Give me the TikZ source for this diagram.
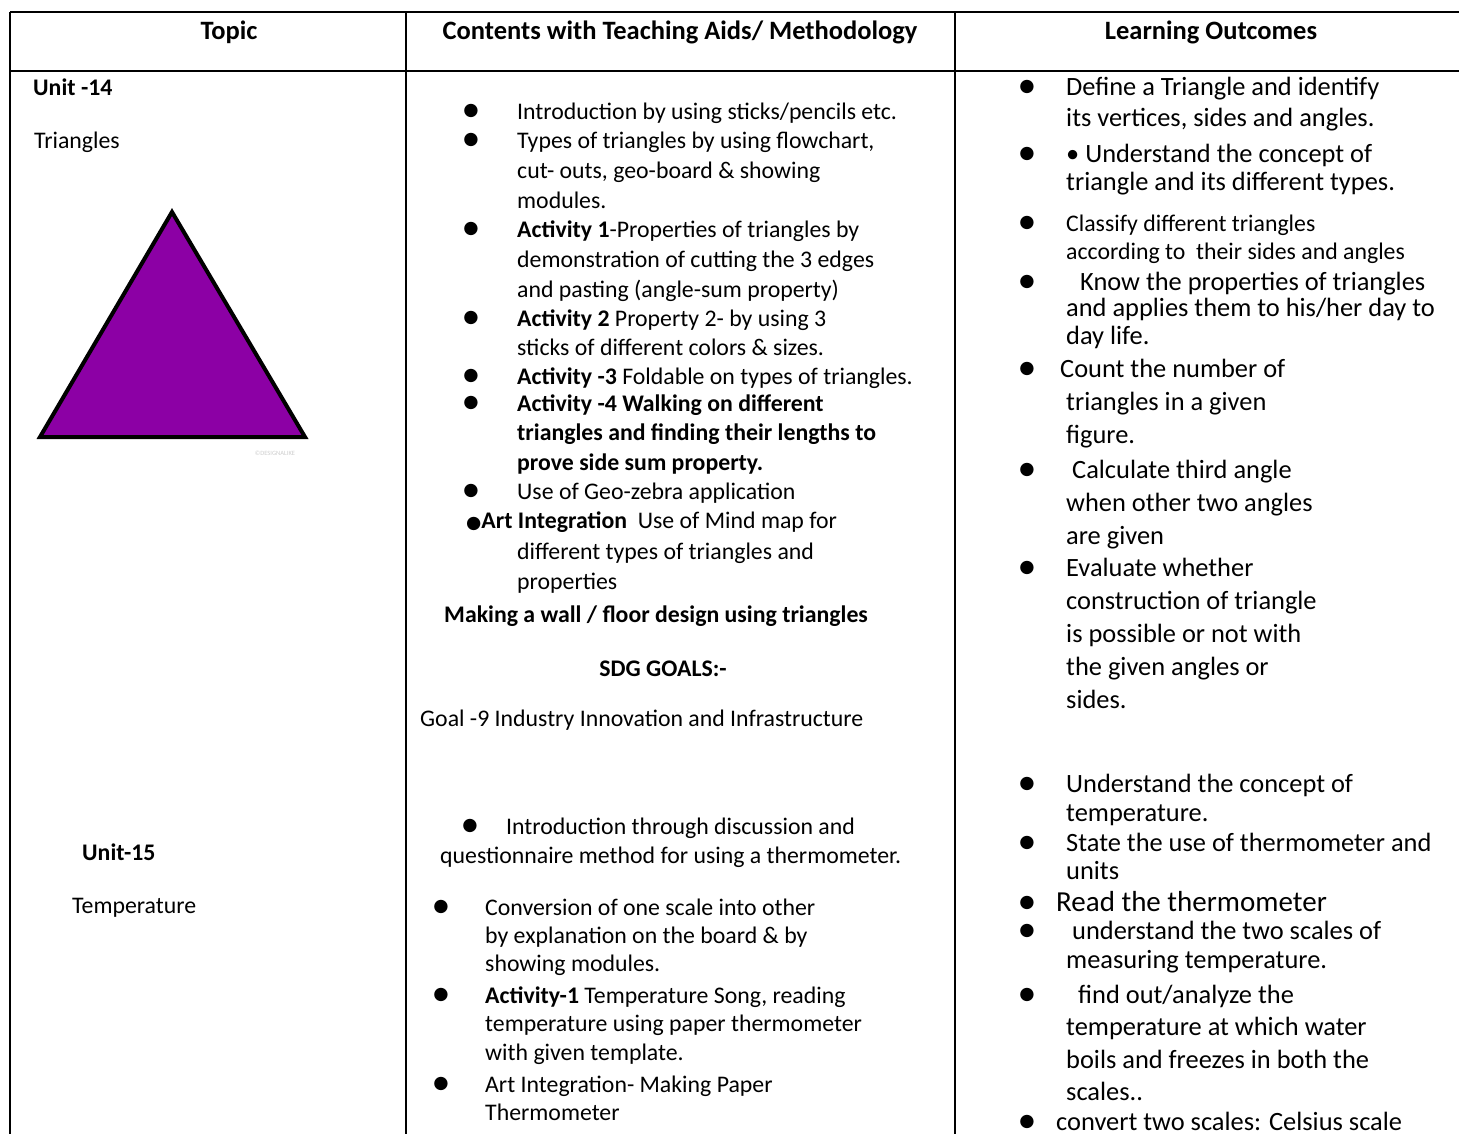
\documentclass[tikz,border=0pt]{standalone}
\usepackage{fontspec}
\setmainfont{Carlito}
\newfontfamily\dejavu{DejaVu Sans}
\definecolor{tripurple}{RGB}{140,0,165}
\definecolor{wmgray}{RGB}{205,205,205}
\newcommand\myfs[1]{\fontsize{#1}{#1}\selectfont}
\begin{document}
\begin{tikzpicture}[x=1pt,y=-1pt,
 grid/.style={line width=2.4pt,black},
 hd/.style={anchor=mid, inner sep=0pt, yshift=-6pt, font=\myfs{26.5}\bfseries},
 tx/.style={anchor=mid west, inner sep=0pt, yshift=-6pt, font=\myfs{23.8}},
 lo/.style={anchor=mid west, inner sep=0pt, yshift=-6pt, font=\myfs{26.4}},
 bl/.style={anchor=center, inner sep=0pt, font=\dejavu\myfs{17.5}},
]
\useasboundingbox (0,0) rectangle (1459,1133);
\clip (0,0) rectangle (1459,1133);

% table grid
\draw[grid] (10,12) -- (1470,12);
\draw[grid] (10,71) -- (1470,71);
\draw[grid] (10,12) -- (10,1140);
\draw[grid] (406,12) -- (406,1140);
\draw[grid] (955,12) -- (955,1140);

% header
\node[hd] (h1) at (229,31) {Topic};
\node[hd] (h2) at (680,31) {Contents with Teaching Aids/ Methodology};
\node[hd] (h3) at (1211,31) {Learning Outcomes};

% topic column
\node[tx,font=\myfs{23.8}\bfseries] (t1) at (33,87) {Unit -14};
\node[tx] (t2) at (34,140) {Triangles};
\filldraw[fill=tripurple,draw=black,line width=4pt,line join=miter] (172,212) -- (305,437) -- (40,437) -- cycle;
\node[anchor=mid, inner sep=0pt, font=\myfs{6.5}, text=wmgray] (wm) at (275,453) {©DESIGNALIKE};
\node[tx,font=\myfs{23.8}\bfseries] (t3) at (82,852) {Unit-15};
\node[tx] (t4) at (72,905) {Temperature};

% contents column, unit 14
\foreach \n/\yy in {1/111,2/140,3/229,4/318,5/376,6/403,7/491}
  \node[bl] (cb\n) at (471,\yy) {●};
\node[tx] (c1) at (517,111) {Introduction by using sticks/pencils etc.};
\node[tx] (c2) at (517,140) {Types of triangles by using flowchart,};
\node[tx] (c3) at (517,170) {cut- outs, geo-board \& showing};
\node[tx] (c4) at (517,200) {modules.};
\node[tx] (c5) at (517,229) {\textbf{Activity 1}-Properties of triangles by};
\node[tx] (c6) at (517,259) {demonstration of cutting the 3 edges};
\node[tx] (c7) at (517,289) {and pasting (angle-sum property)};
\node[tx] (c8) at (517,318) {\textbf{Activity 2} Property 2- by using 3};
\node[tx] (c9) at (517,347) {sticks of different colors \& sizes.};
\node[tx] (c10) at (517,376) {\textbf{Activity -3} Foldable on types of triangles.};
\node[tx,font=\myfs{23.8}\bfseries] (c11) at (517,403) {Activity -4 Walking on different};
\node[tx,font=\myfs{23.8}\bfseries] (c12) at (517,432) {triangles and finding their lengths to};
\node[tx,font=\myfs{23.8}\bfseries] (c13) at (517,462) {prove side sum property.};
\node[tx] (c14) at (517,491) {Use of Geo-zebra application};
\node[tx] (c15) at (466,520) {{\dejavu\myfs{17.5}●}\textbf{Art Integration}\ \ Use of Mind map for};
\node[tx] (c16) at (517,551) {different types of triangles and};
\node[tx] (c17) at (517,581) {properties};
\node[tx,font=\myfs{23.8}\bfseries] (c18) at (444,614) {Making a wall / floor design using triangles};
\node[anchor=mid, inner sep=0pt, yshift=-6pt, font=\myfs{23.8}\bfseries] (c19) at (663,668) {SDG GOALS:-};
\node[tx] (c20) at (420,718) {Goal -9 Industry Innovation and Infrastructure};

% contents column, unit 15
\node[bl] (cb8) at (470,826) {●};
\node[tx] (d1) at (506,826) {Introduction through discussion and};
\node[tx] (d2) at (440,855) {questionnaire method for using a thermometer.};
\foreach \n/\yy in {9/907,10/995,11/1084}
  \node[bl] (cb\n) at (441,\yy) {●};
\node[tx] (d3) at (485,907) {Conversion of one scale into other};
\node[tx] (d4) at (485,935) {by explanation on the board \& by};
\node[tx] (d5) at (485,963) {showing modules.};
\node[tx] (d6) at (485,995) {\textbf{Activity-1} Temperature Song, reading};
\node[tx] (d7) at (485,1023) {temperature using paper thermometer};
\node[tx] (d8) at (485,1052) {with given template.};
\node[tx] (d9) at (485,1084) {Art Integration- Making Paper};
\node[tx] (d10) at (485,1112) {Thermometer};

% learning outcomes
\foreach \n/\yy in {1/87,2/154,3/223,4/282,5/369,6/470,7/568,8/784,9/843,10/903,11/931,12/995,13/1122}
  \node[bl] (ob\n) at (1027,\yy) {●};
\node[lo] (o1) at (1066,87) {Define a Triangle and identify};
\node[lo] (o2) at (1066,118) {its vertices, sides and angles.};
\node[lo] (o3) at (1066,154) {• Understand the concept of};
\node[lo] (o4) at (1066,182) {triangle and its different types.};
\node[tx] (o5) at (1066,223) {Classify different triangles};
\node[tx] (o6) at (1066,251) {according to\ \ their sides and angles};
\node[lo] (o7) at (1080,282) {Know the properties of triangles};
\node[lo] (o8) at (1066,308) {and applies them to his/her day to};
\node[lo] (o9) at (1066,336) {day life.};
\node[lo] (o10) at (1060,369) {Count the number of};
\node[lo] (o11) at (1066,402) {triangles in a given};
\node[lo] (o12) at (1066,435) {figure.};
\node[lo] (o13) at (1072,470) {Calculate third angle};
\node[lo] (o14) at (1066,503) {when other two angles};
\node[lo] (o15) at (1066,536) {are given};
\node[lo] (o16) at (1066,568) {Evaluate whether};
\node[lo] (o17) at (1066,601) {construction of triangle};
\node[lo] (o18) at (1066,634) {is possible or not with};
\node[lo] (o19) at (1066,667) {the given angles or};
\node[lo] (o20) at (1066,700) {sides.};
\node[lo] (p1) at (1066,784) {Understand the concept of};
\node[lo] (p2) at (1066,813) {temperature.};
\node[lo] (p3) at (1066,843) {State the use of thermometer and};
\node[lo] (p4) at (1066,871) {units};
\node[lo,font=\myfs{29}] (p5) at (1056,903) {Read the thermometer};
\node[lo] (p6) at (1072,931) {understand the two scales of};
\node[lo] (p7) at (1066,960) {measuring temperature.};
\node[lo] (p8) at (1078,995) {find out/analyze the};
\node[lo] (p9) at (1066,1027) {temperature at which water};
\node[lo] (p10) at (1066,1060) {boils and freezes in both the};
\node[lo] (p11) at (1066,1092) {scales..};
\node[lo] (p12) at (1056,1122) {convert two scales: Celsius scale};
\end{tikzpicture}
\end{document}
